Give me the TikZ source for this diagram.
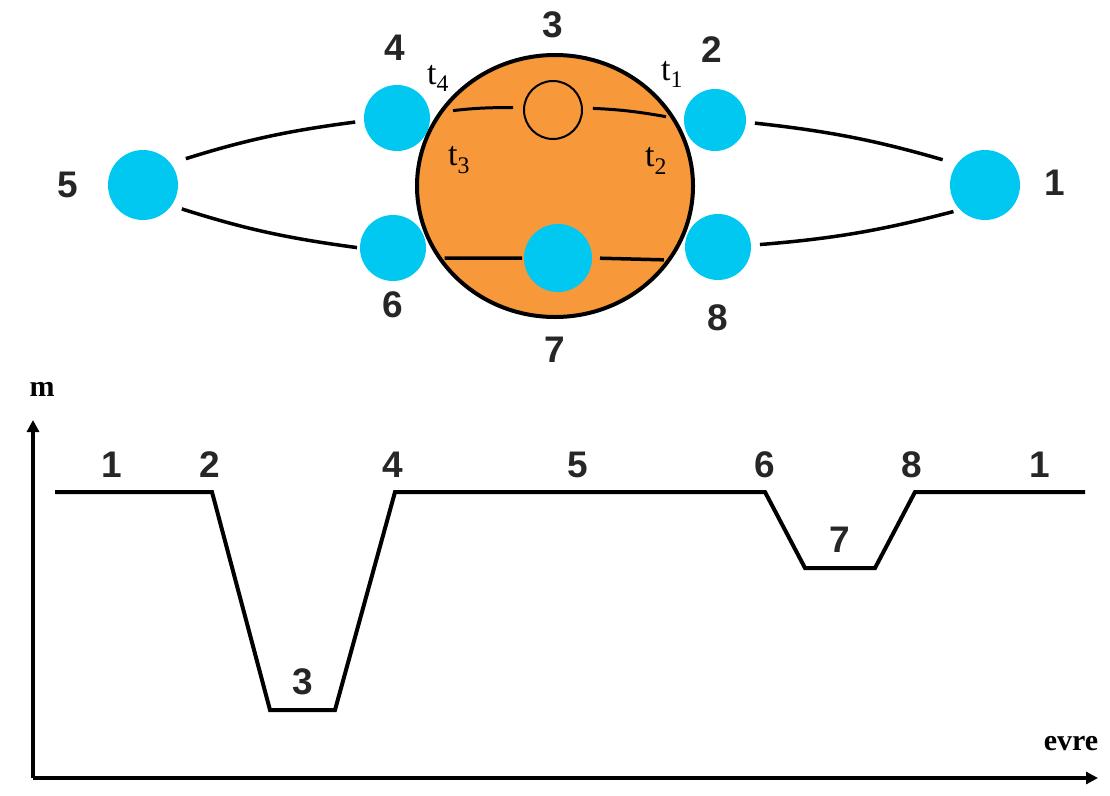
\documentclass[tikz,border=0pt]{standalone}
\usepackage{fontspec}
\setmainfont{Liberation Serif}
\newfontfamily\numfont{Liberation Sans}
\usetikzlibrary{arrows.meta,shapes.geometric}
\definecolor{ballblue}{RGB}{0,200,240}
\definecolor{coreorange}{RGB}{247,152,58}

\begin{document}
\begin{tikzpicture}[x=1pt,y=-1pt, every node/.style={inner sep=0pt,outer sep=0pt},
    ball/.style={circle,fill=ballblue,minimum size=#1},
    ball/.default=66pt,
    num/.style={font=\numfont\bfseries\fontsize{37}{37}\selectfont,text=black!85},
    tlab/.style={font=\fontsize{34}{34}\selectfont},
    axlab/.style={font=\bfseries\fontsize{30}{30}\selectfont},
    link/.style={line width=3.5pt},
    axis/.style={line width=4pt,-{Triangle[length=12pt,width=12pt]}}]
  \useasboundingbox (0,0) rectangle (1110,795);

  % balls round the core
  \node [ball=70pt] (b5) at (143,185) {};
  \node [ball] (b4) at (397,118) {};
  \node [ball] (b6) at (393,248) {};
  \node [ball=62pt] (b2) at (715,120) {};
  \node [ball] (b8) at (718,247) {};
  \node [ball=70pt] (b1) at (985,185) {};

  % core with its inner parts
  \node [draw,ellipse,line width=4pt,fill=coreorange,minimum width=276pt,minimum height=262pt] (core) at (555,186) {};
  \node [draw,circle,line width=2pt,fill=coreorange,minimum size=58pt] (c3) at (553,110) {};
  \node [ball=68pt] (b7) at (558,258) {};

  % outer links
  \draw [link,shorten <=16pt,shorten >=9pt] (b5.38) to[bend left=5] (b4.185);
  \draw [link,shorten <=11pt,shorten >=3pt] (b5.-36) to[bend right=5] (b6.180);
  \draw [link,shorten <=9pt,shorten >=15pt] (b2.-4) to[bend left=5] (b1.143);
  \draw [link,shorten <=9pt,shorten >=7pt] (b8.3) to[bend right=5] (b1.225);

  % inner links
  \draw [line width=3pt,shorten <=12pt,shorten >=11pt] (core.147) to[bend left=4] (c3.176);
  \draw [line width=3pt,shorten <=11pt,shorten >=7pt] (c3.4) to[bend left=4] (core.30);
  \draw [line width=3.5pt,shorten <=5pt,shorten >=2pt] (core.212) -- (b7.180);
  \draw [line width=3.5pt,shorten <=8pt,shorten >=5pt] (b7.0) -- (core.327);

  % labels
  \node [num] (n3) at (553,25) {3};
  \node [num] (n4) at (395,48) {4};
  \node [num] (n2) at (712,50) {2};
  \node [num] (n5) at (68,185) {5};
  \node [num] (n1) at (1055,183) {1};
  \node [num] (n6) at (393,305) {6};
  \node [num] (n7) at (555,350) {7};
  \node [num] (n8) at (718,318) {8};
  \node [tlab] (t4) at (438,78) {t\textsubscript{4}};
  \node [tlab] (t1) at (672,74) {t\textsubscript{1}};
  \node [tlab] (t3) at (459,160) {t\textsubscript{3}};
  \node [tlab] (t2) at (656,161) {t\textsubscript{2}};

  % mass along the orbit
  \coordinate (origin) at (33,778);
  \coordinate (ytop) at (33,420);
  \coordinate (xend) at (1098,778);
  \draw [axis] (origin) -- (ytop);
  \draw [axis] (origin) -- (xend);
  \node [axlab] (m) at (42,389) {m};
  \node [axlab] (evre) at (1071,744) {evre};

  \draw [line width=4pt,line join=miter] (55,492) -- (212,492) -- (270,710) -- (335,710)
    -- (395,492) -- (765,492) -- (805,568) -- (875,568) -- (915,492) -- (1085,492);

  \node [num] (g1) at (112,465) {1};
  \node [num] (g2) at (210,465) {2};
  \node [num] (g3) at (303,682) {3};
  \node [num] (g4) at (393,465) {4};
  \node [num] (g5) at (578,465) {5};
  \node [num] (g6) at (765,465) {6};
  \node [num] (g7) at (840,540) {7};
  \node [num] (g8) at (912,465) {8};
  \node [num] (g9) at (1040,465) {1};
\end{tikzpicture}
\end{document}
